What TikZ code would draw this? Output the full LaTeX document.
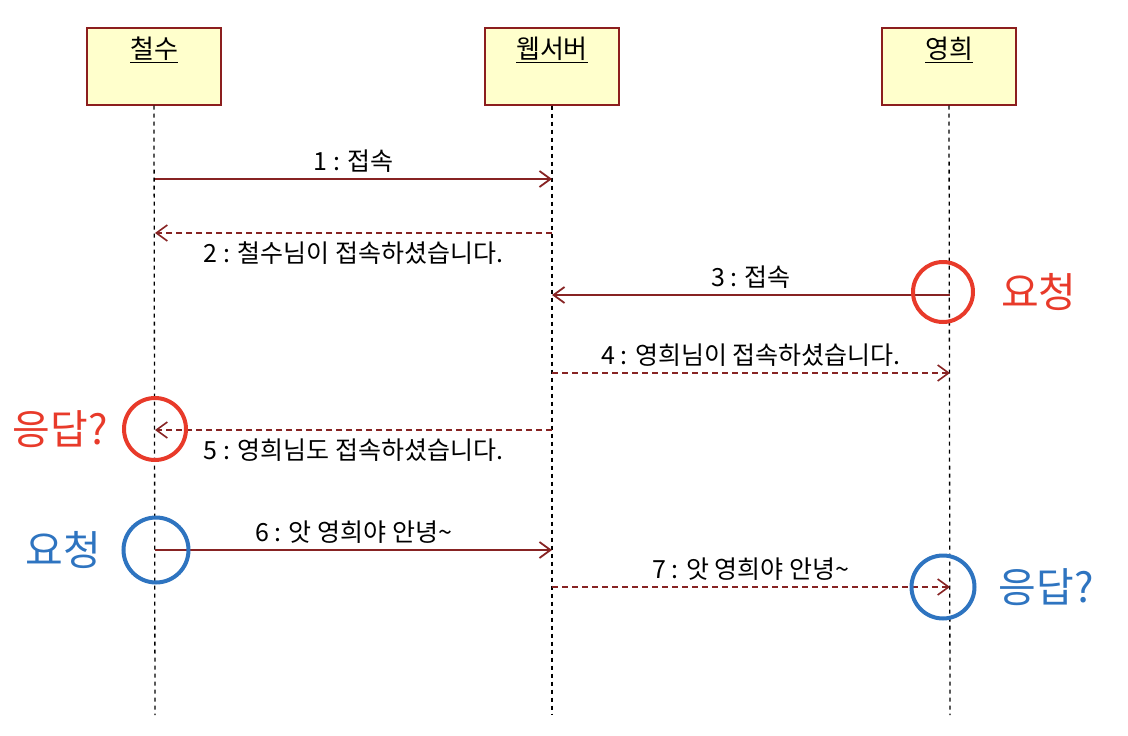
\documentclass[tikz,border=0pt]{standalone}
\usepackage{fontspec}
\setmainfont{Noto Sans CJK KR}
\usetikzlibrary{arrows.meta, positioning}
\definecolor{boxred}{RGB}{140,30,30}
\definecolor{boxfill}{RGB}{255,255,204}
\definecolor{msgred}{RGB}{135,35,35}
\definecolor{markred}{RGB}{232,58,42}
\definecolor{markblue}{RGB}{46,116,192}

\tikzset{
  actor/.style={draw=boxred, line width=2pt, fill=boxfill, minimum width=134pt, minimum height=77pt},
  title/.style={anchor=north, yshift=-7pt, font=\fontsize{26}{28}\selectfont},
  lifeline/.style={line width=1.3pt, dash pattern=on 4pt off 4pt},
  msg/.style={msgred, line width=1.8pt, -{Straight Barb[length=11pt,width=16pt]}},
  reply/.style={msg, line width=1.6pt, dash pattern=on 6pt off 4pt},
  msglabel/.style={font=\fontsize{25}{27}\selectfont, text=black},
  ring/.style={circle, line width=4pt, inner sep=0pt},
  bigtext/.style={font=\fontsize{41}{44}\selectfont, inner sep=0pt}
}

\begin{document}
\begin{tikzpicture}[x=1pt, y=-1pt]
  \useasboundingbox (0,0) rectangle (1128,736);
  % Draw actors
  \node[actor, label={[title]north:\underline{철수}}] (chulsu) at (154,66) {};
  \node[actor, label={[title]north:\underline{웹서버}}] (server) at (552,66) {};
  \node[actor, label={[title]north:\underline{영희}}] (younghee) at (949,66) {};
  % Draw lifelines
  \coordinate (chulsu end) at (155,715);
  \coordinate (server end) at (552,715);
  \coordinate (younghee end) at (950,715);
  \foreach \who in {chulsu, server, younghee}
    \draw[lifeline] (\who.south) -- (\who\space end);
  % Message points on the lifelines
  \foreach \n/\y in {1/179, 2/233, 3/295, 4/373, 5/430, 6/550, 7/587} {
    \coordinate (c\n) at (155,\y);
    \coordinate (s\n) at (552,\y);
    \coordinate (y\n) at (950,\y);
  }
  % Draw messages
  \draw[msg] (c1) -- node[above=2pt, msglabel] {1 : 접속} (s1);
  \draw[reply] (s2) -- node[below=5pt, msglabel] {2 : 철수님이 접속하셨습니다.} (c2);
  \draw[msg] (y3) -- node[above=2pt, msglabel] {3 : 접속} (s3);
  \draw[reply] (s4) -- node[above=2pt, msglabel] {4 : 영희님이 접속하셨습니다.} (y4);
  \draw[reply] (s5) -- node[below=5pt, msglabel] {5 : 영희님도 접속하셨습니다.} (c5);
  \draw[msg] (c6) -- node[above=2pt, msglabel] {6 : 앗 영희야 안녕\textasciitilde} (s6);
  \draw[reply] (s7) -- node[above=2pt, msglabel] {7 : 앗 영희야 안녕\textasciitilde} (y7);
  % Red marks
  \node[ring, draw=markred, minimum size=60pt] (ask1) at (943,292) {};
  \node[bigtext, text=markred, right=26pt of ask1] (ask1 text) {요청};
  \node[ring, draw=markred, minimum size=62pt] (answer1) at (155,429) {};
  \node[bigtext, text=markred, left=14pt of answer1] (answer1 text) {응답?};
  % Blue marks
  \node[ring, draw=markblue, minimum size=65pt] (ask2) at (156,550) {};
  \node[bigtext, text=markblue, left=20pt of ask2] (ask2 text) {요청};
  \node[ring, draw=markblue, minimum size=63pt] (answer2) at (943,587) {};
  \node[bigtext, text=markblue, right=22pt of answer2] (answer2 text) {응답?};
\end{tikzpicture}
\end{document}
